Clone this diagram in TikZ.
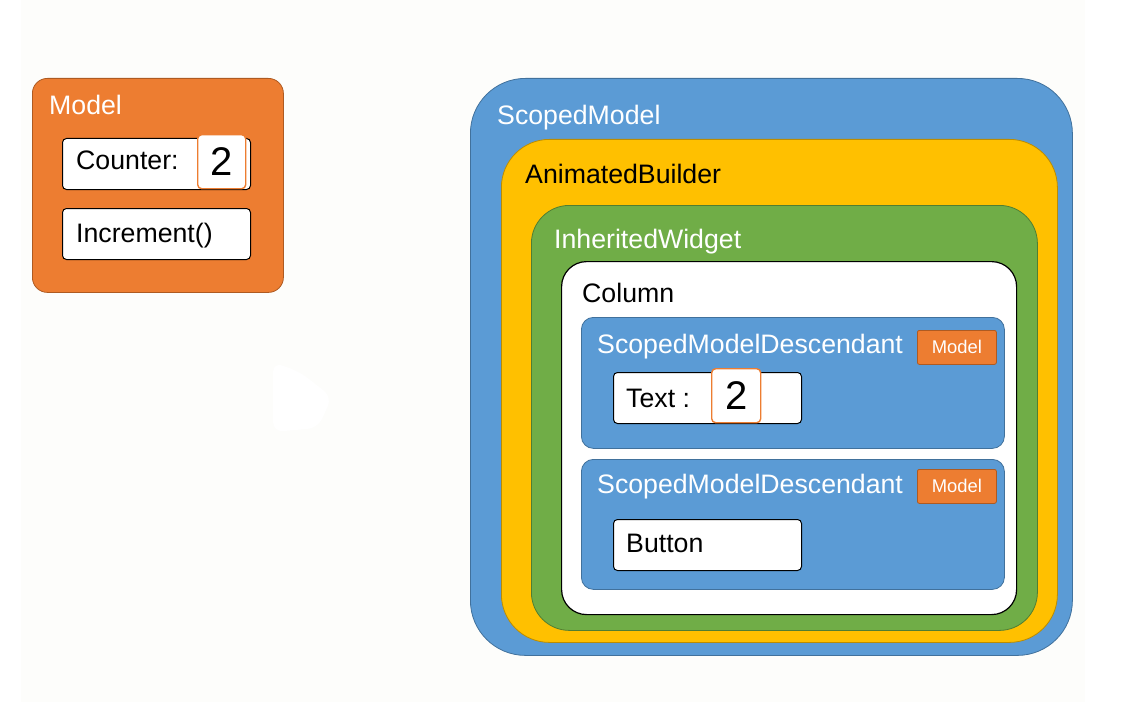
\documentclass[tikz,border=0pt]{standalone}
\usepackage{fontspec}
\setmainfont{Liberation Sans}
\usetikzlibrary{positioning}
\definecolor{paperColor}{HTML}{FDFDFB}
\definecolor{blueFill}{HTML}{5B9BD5}
\definecolor{blueLine}{HTML}{41719C}
\definecolor{orangeFill}{HTML}{ED7D31}
\definecolor{orangeLine}{HTML}{AE5A21}
\definecolor{yellowFill}{HTML}{FFC000}
\definecolor{yellowLine}{HTML}{BC8C00}
\definecolor{greenFill}{HTML}{70AD47}
\definecolor{greenLine}{HTML}{507E32}
\begin{document}
\begin{tikzpicture}[x=1pt, y=-1pt,
  boxStyle/.style={rectangle, anchor=north west, inner sep=0pt, line width=0.8pt},
  fieldStyle/.style={boxStyle, fill=white, draw=black, line width=1pt, rounded corners=4pt, minimum width=188pt, minimum height=51pt},
  valueStyle/.style={boxStyle, fill=white, draw=orangeFill, line width=1.4pt, rounded corners=4pt, minimum width=48pt, minimum height=54pt, font=\fontsize{40}{40}\selectfont},
  badgeStyle/.style={boxStyle, fill=orangeFill, draw=orangeLine, rounded corners=2pt, minimum width=79pt, minimum height=34pt, text=white, font=\fontsize{18.4}{20}\selectfont},
  labelStyle/.style={anchor=base west, inner sep=0pt, font=\fontsize{26.7}{30}\selectfont}]
  \useasboundingbox (0,0) rectangle (1146,706);
  \fill[white] (0,0) rectangle (1146,706);
  \fill[paperColor] (21,0) rectangle (1085,702);
  \fill[white, rounded corners=10pt] (273,362) -- (300,372) -- (332,397) -- (318,428) -- (273,432) -- cycle;

  % the model
  \node[boxStyle, fill=orangeFill, draw=orangeLine, rounded corners=15pt, minimum width=251pt, minimum height=214pt] (model_box) at (32,78) {};
  \node[labelStyle, text=white] (model_label) at (49,115) {Model};
  \node[fieldStyle] (counter_box) at (62,138) {};
  \node[labelStyle] (counter_label) at (76,170) {Counter:};
  \node[valueStyle] (counter_val) at (197,134) {2};
  \node[fieldStyle] (increment_box) at (62,208) {};
  \node[labelStyle] (increment_label) at (76,242) {Increment()};

  % the widget tree
  \node[boxStyle, fill=blueFill, draw=blueLine, rounded corners=55pt, minimum width=602pt, minimum height=577pt] (sm_box) at (470,78) {};
  \node[labelStyle, text=white] (sm_label) at (497,125) {ScopedModel};
  \node[boxStyle, fill=yellowFill, draw=yellowLine, rounded corners=48pt, minimum width=556pt, minimum height=503pt] (ab_box) at (501,139) {};
  \node[labelStyle] (ab_label) at (525,183) {AnimatedBuilder};
  \node[boxStyle, fill=greenFill, draw=greenLine, rounded corners=38pt, minimum width=506pt, minimum height=425pt] (iw_box) at (531,205) {};
  \node[labelStyle, text=white] (iw_label) at (554,248) {InheritedWidget};
  \node[boxStyle, fill=white, draw=black, line width=1.2pt, rounded corners=25pt, minimum width=455pt, minimum height=353pt] (col_box) at (561,261) {};
  \node[labelStyle] (col_label) at (582,302) {Column};

  \node[boxStyle, fill=blueFill, draw=blueLine, rounded corners=12pt, minimum width=423pt, minimum height=131pt] (smd1_box) at (581,317) {};
  \node[labelStyle, text=white] (smd1_label) at (597,353) {ScopedModelDescendant};
  \node[badgeStyle] (smd1_model) at (917,330) {Model};
  \node[fieldStyle] (text_box) at (613,372) {};
  \node[labelStyle] (text_label) at (626,407) {Text :};
  \node[valueStyle, minimum width=49pt] (text_val) at (711,368) {2};

  \node[boxStyle, fill=blueFill, draw=blueLine, rounded corners=12pt, minimum width=423pt, minimum height=130pt] (smd2_box) at (581,459) {};
  \node[labelStyle, text=white] (smd2_label) at (597,493) {ScopedModelDescendant};
  \node[badgeStyle] (smd2_model) at (917,469) {Model};
  \node[fieldStyle] (button_box) at (613,519) {};
  \node[labelStyle] (button_label) at (626,552) {Button};
\end{tikzpicture}
\end{document}
